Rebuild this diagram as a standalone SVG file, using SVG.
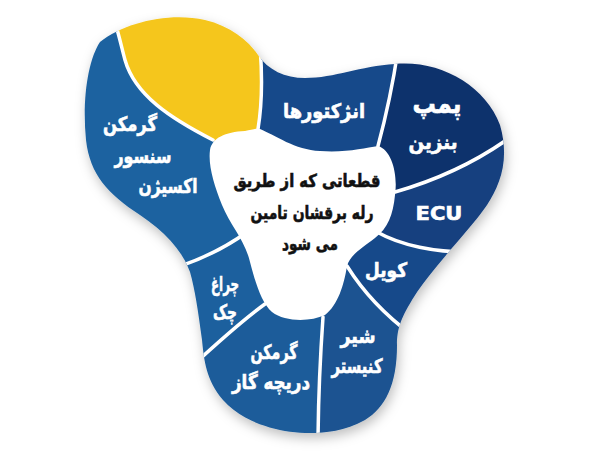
<svg xmlns="http://www.w3.org/2000/svg" width="600" height="465" viewBox="0 0 600 465">
<defs>
<style>
.lbl{font-family:"DejaVu Sans","Noto Sans",sans-serif;font-weight:bold;font-size:20px;fill:#ffffff;stroke:#ffffff;stroke-width:0.6;text-anchor:middle}
.ctr{font-family:"DejaVu Sans","Noto Sans",sans-serif;font-weight:bold;font-size:18px;fill:#111111;stroke:#111111;stroke-width:0.6;text-anchor:middle}
.div{fill:none;stroke:#ffffff;stroke-width:3.5;stroke-linecap:round}
</style>
<clipPath id="outline">
<path d="M100,42 C125,22 170,12 205,20 C230,26 248,40 258,55 C268,70 285,78 305,78 C335,78 360,66 395,64 C440,60 485,85 500,125 C510,160 500,185 487,205 C470,230 430,270 412,300 C400,320 397,330 397,345 C397,385 385,408 365,420 C345,431 325,433 310,433 C280,433 243,423 223,400 C206,380 204,360 202,340 C198,310 195,290 190,272 C182,250 165,232 140,215 C108,194 90,175 86,140 C82,100 88,60 100,42 Z"/>
</clipPath>
<filter id="shadow" x="-20%" y="-20%" width="140%" height="140%">
<feDropShadow dx="2" dy="5" stdDeviation="6" flood-color="#000000" flood-opacity="0.25"/>
</filter>
</defs>
<rect width="600" height="465" fill="#ffffff"/>
<g filter="url(#shadow)">
<g clip-path="url(#outline)">
<g id="seg-yellow">
<path fill="#f5c61c" d="M213,140 C170,118 135,95 125,60 C121,45 119,35 113,15 L180,-5 L259,-5 L259,35 C263,75 262,105 258,129 L305,215 Z"/>
</g>
<g id="seg-injectors">
<path fill="#17488a" d="M258,129 C262,105 263,75 259,35 L259,-5 L400,-5 L398,50 C392,90 385,120 378,146 L305,215 Z"/>
</g>
<g id="seg-pump">
<path fill="#0f306c" d="M378,146 C385,120 392,90 398,50 L400,-5 L570,-5 L570,110 L520,130 C475,165 430,182 395,192 L305,215 Z"/>
</g>
<g id="seg-ecu">
<path fill="#143f7f" d="M395,192 C430,182 475,165 520,130 L570,110 L570,260 L475,252 C435,253 400,245 377,232 L305,215 Z"/>
</g>
<g id="seg-coil">
<path fill="#16488a" d="M377,232 C400,245 435,253 475,252 L570,260 L570,340 L412,335 C385,315 362,290 347,266 L305,215 Z"/>
</g>
<g id="seg-canister">
<path fill="#1a5391" d="M347,266 C362,290 385,315 412,335 L570,340 L570,480 L318,480 L318,450 C318,400 320,360 323,317 L305,215 Z"/>
</g>
<g id="seg-throttle">
<path fill="#1c5c9a" d="M323,317 C320,360 318,400 318,450 L318,480 L150,480 L190,368 C215,345 240,322 265,304 L305,215 Z"/>
</g>
<g id="seg-check">
<path fill="#1d609e" d="M265,304 C240,322 215,345 190,368 L150,380 L150,280 L175,268 C205,258 228,246 247,232 L305,215 Z"/>
</g>
<g id="seg-sensor">
<path fill="#1e62a0" d="M247,232 C228,246 205,258 175,268 L150,280 L40,280 L40,-5 L113,15 C119,35 121,45 125,60 C135,95 170,118 213,140 L305,215 Z"/>
</g>
</g>
</g>
<g id="dividers" clip-path="url(#outline)">
<path class="div" d="M213,140 C170,118 135,95 125,60 C121,45 119,35 113,15"/>
<path class="div" d="M258,129 C262,105 263,75 259,35"/>
<path class="div" d="M378,146 C385,120 392,90 398,50"/>
<path class="div" d="M395,192 C430,182 475,165 520,130"/>
<path class="div" d="M377,232 C400,245 435,253 475,252"/>
<path class="div" d="M347,266 C362,290 385,315 412,335"/>
<path class="div" d="M323,317 C320,360 318,400 318,450"/>
<path class="div" d="M265,304 C240,322 215,345 190,368"/>
<path class="div" d="M247,232 C228,246 205,258 175,268"/>
</g>
<g id="center">
<path fill="#ffffff" d="M210,150 C212,138 225,132 245,131 C252,130 256,128 260,129 C275,135 295,150 320,151 C345,153 365,148 378,146 C392,150 398,175 395,195 C393,215 388,228 375,238 C362,248 350,255 347,266 C344,285 338,305 325,315 C310,322 285,322 272,312 C262,303 256,285 250,262 C245,240 230,225 222,205 C214,185 208,165 210,150 Z"/>
<text class="ctr" x="307" y="187" textLength="147" lengthAdjust="spacingAndGlyphs">قطعاتی که از طریق</text>
<text class="ctr" x="312" y="219" textLength="123" lengthAdjust="spacingAndGlyphs">رله برقشان تامین</text>
<text class="ctr" x="310" y="250" textLength="56" lengthAdjust="spacingAndGlyphs">می شود</text>
</g>
<g id="labels">
<text class="lbl" x="130" y="131" textLength="54" lengthAdjust="spacingAndGlyphs">گرمکن</text>
<text class="lbl" x="143" y="163" textLength="57" lengthAdjust="spacingAndGlyphs">سنسور</text>
<text class="lbl" x="168" y="193" textLength="59" lengthAdjust="spacingAndGlyphs">اکسیژن</text>
<text class="lbl" x="324" y="118" textLength="82" lengthAdjust="spacingAndGlyphs">انژکتورها</text>
<text class="lbl" x="437" y="113" style="font-size:27px" textLength="49" lengthAdjust="spacingAndGlyphs">پمپ</text>
<text class="lbl" x="433" y="149" textLength="49" lengthAdjust="spacingAndGlyphs">بنزین</text>
<text class="lbl" x="439" y="220" textLength="47" lengthAdjust="spacingAndGlyphs">ECU</text>
<text class="lbl" x="386" y="277" textLength="42" lengthAdjust="spacingAndGlyphs">کویل</text>
<text class="lbl" x="358" y="343" textLength="35" lengthAdjust="spacingAndGlyphs">شیر</text>
<text class="lbl" x="357" y="373" textLength="51" lengthAdjust="spacingAndGlyphs">کنیستر</text>
<text class="lbl" x="274" y="359" textLength="47" lengthAdjust="spacingAndGlyphs">گرمکن</text>
<text class="lbl" x="271" y="389" textLength="78" lengthAdjust="spacingAndGlyphs">دریچه گاز</text>
<text class="lbl" x="225" y="291" textLength="28" lengthAdjust="spacingAndGlyphs">چراغ</text>
<text class="lbl" x="225" y="319" textLength="24" lengthAdjust="spacingAndGlyphs">چک</text>
</g>
</svg>
